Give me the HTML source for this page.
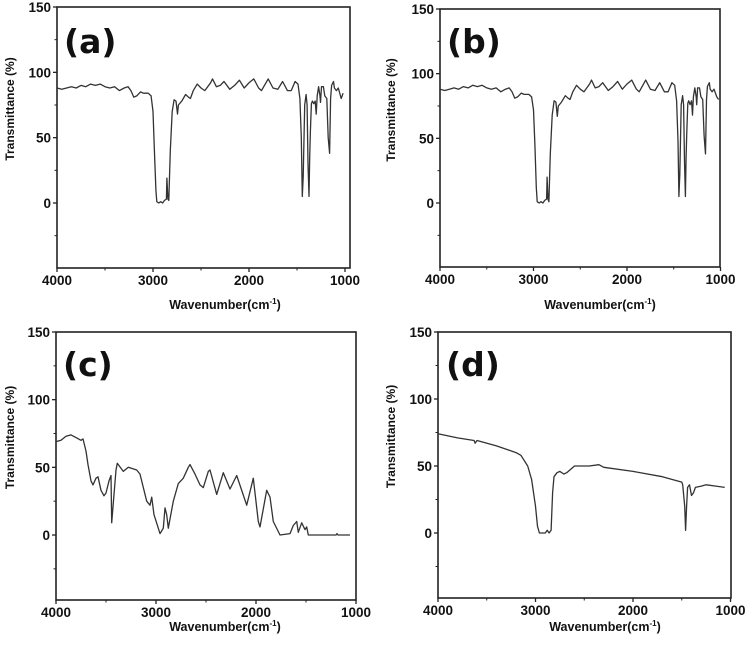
<!DOCTYPE html>
<html><head><meta charset="utf-8"><style>
html,body{margin:0;padding:0;background:#fff;}
svg{display:block;}
text{font-family:"Liberation Sans",Arial,sans-serif;font-weight:bold;fill:#111;}
.lbl{font-family:"DejaVu Sans","Liberation Sans",sans-serif;font-weight:bold;}
</style></head><body>
<svg id="fig" width="750" height="655" viewBox="0 0 750 655" xmlns="http://www.w3.org/2000/svg"></svg>
<script>
const xTicks = [4000, 3000, 2000, 1000];
const yTicks = [0, 50, 100, 150];
const panelLabels = ["(a)", "(b)", "(c)", "(d)"];

const waveA = [4000,3950,3900,3850,3800,3750,3700,3650,3600,3550,3500,3450,3400,3350,3300,3260,3230,3200,3170,3130,3100,3050,3020,3000,2985,2970,2960,2940,2920,2900,2880,2860,2855,2845,2835,2820,2800,2780,2760,2745,2735,2700,2660,2630,2610,2580,2540,2500,2460,2400,2380,2340,2300,2260,2200,2150,2100,2050,2000,1950,1900,1870,1800,1750,1700,1650,1600,1560,1520,1490,1470,1455,1445,1435,1420,1405,1395,1385,1375,1368,1360,1350,1340,1325,1310,1300,1290,1275,1260,1255,1245,1225,1210,1190,1175,1160,1150,1140,1120,1110,1090,1070,1040,1020];
const transA = [88,87,88,89,88,90,89,91,90,91,89,88,89,86,88,89,86,81,82,85,84,84,82,70,40,10,1,0,1,0,2,3,19,3,2,40,70,79,78,68,75,78,83,81,80,86,91,88,86,92,95,89,90,93,87,90,94,88,92,95,88,86,95,88,87,93,86,86,93,91,80,50,5,20,75,83,75,30,5,35,55,76,78,76,78,68,82,89,82,77,89,89,82,80,50,38,80,90,93,88,86,88,80,84];
const waveB = waveA.slice();
const transB = [88,87,88,89,88,90,89,91,90,91,89,88,89,86,88,89,86,81,82,85,84,84,82,72,45,12,1,0,1,0,2,3,20,3,1,38,68,79,78,67,75,78,83,81,80,86,91,88,86,92,95,89,90,93,87,90,94,88,92,95,88,86,95,88,87,93,86,86,93,91,79,48,5,22,76,83,76,32,5,36,55,77,79,76,79,68,82,89,82,76,89,89,82,80,52,38,80,90,93,88,86,88,82,80];
const waveC = [4000,3950,3900,3850,3800,3750,3730,3700,3680,3650,3630,3600,3580,3550,3520,3500,3470,3450,3443,3420,3400,3387,3327,3277,3193,3160,3093,3060,3043,3020,2977,2960,2927,2910,2893,2877,2827,2777,2727,2677,2660,2610,2560,2527,2477,2460,2393,2327,2260,2193,2093,2027,1977,1960,1893,1860,1827,1760,1660,1627,1593,1577,1543,1510,1493,1477,1200,1190,1180,1060];
const transC = [69,70,73,74,72,70,71,62,52,40,37,42,43,33,29,31,40,44,9,30,48,53,47,50,48,45,25,22,28,15,5,1,5,20,15,5,25,38,42,50,52,45,37,35,47,48,30,46,34,44,22,42,10,6,33,28,10,0,1,7,10,2,9,4,6,0,0,1,0,0];
const waveD = [4000,3800,3630,3620,3600,3400,3200,3150,3080,3040,3000,2980,2960,2900,2880,2860,2840,2825,2810,2780,2750,2710,2680,2600,2450,2350,2300,2000,1700,1500,1490,1470,1460,1450,1440,1420,1400,1380,1360,1300,1250,1150,1060];
const transD = [74,71,69,67,69,65,60,58,50,40,20,5,0,0,2,0,2,30,42,45,46,44,45,50,50,51,49,46,42,38,36,20,2,20,34,36,28,30,34,35,36,35,34];

const panels = [
 {name:"a", left:57, k:0.096, right:350, top:7, bottom:268, y0:203, waves:waveA, trans:transA, lx:64, ly:53, ylx:14, xt:225, xty:309},
 {name:"b", left:440, k:0.0935, right:720, top:9, bottom:267, y0:203, waves:waveB, trans:transB, lx:447, ly:53, ylx:395, xt:600, xty:309},
 {name:"c", left:56, k:0.100, right:356, top:332, bottom:600, y0:535, waves:waveC, trans:transC, lx:63, ly:376, ylx:14, xt:225, xty:631},
 {name:"d", left:438, k:0.0975, right:731, top:332, bottom:598, y0:533, waves:waveD, trans:transD, lx:446, ly:376, ylx:395, xt:605, xty:631}
];
const NS = "http://www.w3.org/2000/svg";
const svg = document.getElementById("fig");
function mk(tag, attrs, parent){const e=document.createElementNS(NS,tag);for(const k in attrs)e.setAttribute(k,attrs[k]);(parent||svg).appendChild(e);return e;}

panels.forEach((p, i) => {
  const sy = (p.y0 - p.top) / 150;
  const xs = w => p.left + (4000 - w) * p.k;
  const ys = v => p.y0 - v * sy;
  const g = mk("g", {});
  
  
  const frame = mk("rect", {x:p.left, y:p.top, width:p.right-p.left, height:p.bottom-p.top, fill:"none", stroke:"#222", "stroke-width":1.6}, g);
  
  
  xTicks.forEach(t => {
    const x = xs(t);
    const tk = mk("line", {x1:x, x2:x, y1:p.bottom, y2:p.bottom+4, stroke:"#222", "stroke-width":1.3}, g);
    
    
    const lx = Math.min(x, 734);
    const tl = mk("text", {x:lx, y:p.bottom+17, "text-anchor":"middle", "font-size":13.5}, g);
    tl.textContent = t;
    
    
  });
  [3500,2500,1500].forEach(t => {
    const x = xs(t);
    const mt = mk("line", {x1:x, x2:x, y1:p.bottom, y2:p.bottom+2.5, stroke:"#222", "stroke-width":1}, g);
    
    
  });
  yTicks.forEach(t => {
    const y = ys(t);
    const tk = mk("line", {x1:p.left-4, x2:p.left, y1:y, y2:y, stroke:"#222", "stroke-width":1.3}, g);
    
    
    const tl = mk("text", {x:p.left-6, y:y+5, "text-anchor":"end", "font-size":13.5}, g);
    tl.textContent = t;
    
    
  });
  [-25,25,75,125].forEach(t => {
    const y = ys(t);
    const mt = mk("line", {x1:p.left-2.5, x2:p.left, y1:y, y2:y, stroke:"#222", "stroke-width":1}, g);
    
    
  });
  const d = p.waves.map((w, j) => (j ? "L" : "M") + xs(w).toFixed(1) + "," + ys(p.trans[j]).toFixed(1)).join(" ");
  const line = mk("path", {d:d, fill:"none", stroke:"#333", "stroke-width":1.3, "stroke-linejoin":"round"}, g);
  
  
  const lab = mk("text", {x:p.lx, y:p.ly, "font-size":33, "class":"lbl"}, g);
  lab.textContent = panelLabels[i];
  
  
  const cy = (p.top + p.y0) / 2 + 4;
  const yt = mk("text", {x:0, y:0, "text-anchor":"middle", "font-size":12, transform:"translate(" + p.ylx + "," + cy + ") rotate(-90)"}, g);
  yt.textContent = "Transmittance (%)";
  
  
  const xt = mk("text", {x:p.xt, y:p.xty, "text-anchor":"middle", "font-size":12.5}, g);
  xt.innerHTML = 'Wavenumber(cm<tspan dy="-5" font-size="8">-1</tspan><tspan dy="5">)</tspan>';
  
  
});
</script>
</body></html>
